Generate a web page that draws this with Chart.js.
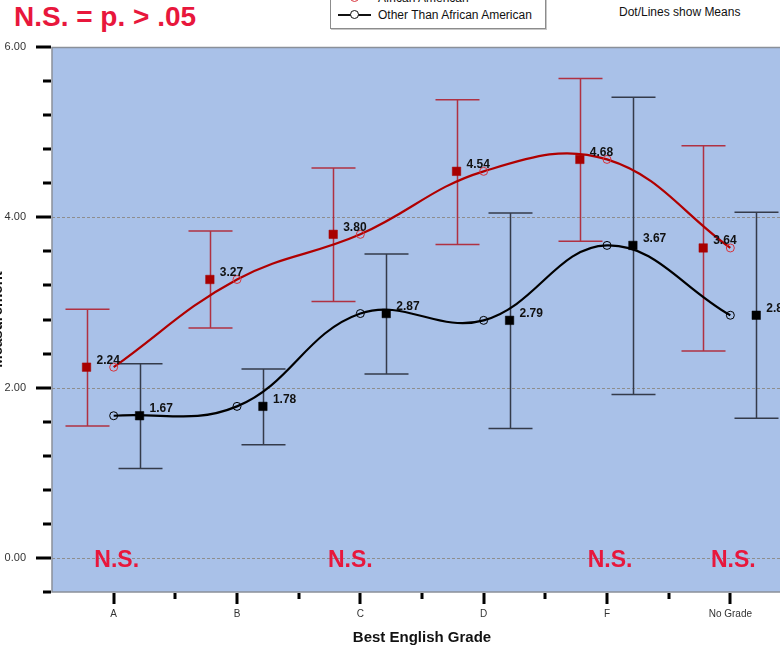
<!DOCTYPE html>
<html lang="en">
<head>
  <meta charset="UTF-8" />
  <title>Best English Grade | Means</title>
  <style>
    html, body {
      margin: 0;
      background: #fff;
    }

    body {
      width: 780px;
      height: 645px;
      overflow: hidden;
      position: relative;
      font-family: 'Liberation Sans', Arial, sans-serif;
    }

    .chart-box {
      position: absolute;
      left: -12px;
      top: 0;
      width: 812px;
      height: 645px;
    }

    .ns-title {
      position: absolute;
      left: 14px;
      top: 0;
      line-height: 34px;
      font-size: 28px;
      font-weight: bold;
      color: #e8173c;
      white-space: nowrap;
    }

    .means-note {
      position: absolute;
      left: 619px;
      top: 4px;
      font-size: 12px;
      line-height: 16px;
      color: #111;
      white-space: nowrap;
    }

    .legend {
      position: absolute;
      left: 330px;
      top: -20px;
      width: 214px;
      height: 47px;
      border: 1px solid #8c8c8c;
      box-shadow: 1px 1px 0 #c8c8c8;
      background: #fff;
    }

    .legend .row {
      position: absolute;
      left: 0;
      width: 100%;
      height: 16px;
    }

    .legend .row span {
      position: absolute;
      left: 47px;
      top: 0;
      font-size: 12px;
      line-height: 16px;
      color: #111;
      white-space: nowrap;
    }

    .legend .sym {
      position: absolute;
      left: 7px;
      top: 7px;
      width: 33px;
      height: 1.5px;
      background: #111;
    }

    .legend .sym::after {
      content: '';
      position: absolute;
      left: 12px;
      top: -4px;
      width: 7px;
      height: 7px;
      border: 1px solid #111;
      border-radius: 50%;
      background: #fff;
    }

    .legend .red .sym { background: #b00000; }
    .legend .red .sym::after { border-color: #d8343c; }
  </style>
</head>
<body>
  <div class="ns-title">N.S. = p. &gt; .05</div>

  <div class="legend">
    <div class="row red" style="top: 9px;"><i class="sym"></i><span>African American</span></div>
    <div class="row" style="top: 26px;"><i class="sym"></i><span>Other Than African American</span></div>
  </div>

  <div class="means-note">Dot/Lines show Means</div>

  <div class="chart-box">
    <canvas id="gradeChart"></canvas>
  </div>

  <script src="https://cdn.jsdelivr.net/npm/chart.js"></script>
  <script>
    // values
    const grades = ['A', 'B', 'C', 'D', 'F', 'No Grade'];

    const redMeans = [2.24, 3.27, 3.80, 4.54, 4.68, 3.64];
    const redLow   = [1.55, 2.70, 3.01, 3.68, 3.72, 2.43];
    const redHigh  = [2.92, 3.84, 4.58, 5.38, 5.63, 4.84];

    const blackMeans = [1.67, 1.78, 2.87, 2.79, 3.67, 2.85];
    const blackLow   = [1.05, 1.33, 2.16, 1.52, 1.92, 1.64];
    const blackHigh  = [2.28, 2.22, 3.57, 4.05, 5.41, 4.06];

    const nsGrades = ['A', 'C', 'F', 'No Grade'];

    const plotBlue = '#a9c1e8';
    const redLine = '#b00000';
    const redMark = '#a80000';
    const redBar = 'rgba(178, 24, 36, 0.85)';
    const blackBar = '#343b4a';
    const nsRed = '#e8173c';

    // error bars sit a little left (red) and right (black) of each grade
    const redShift = -0.22;
    const blackShift = 0.21;

    const isMajor = v => Math.abs(v / 2 - Math.round(v / 2)) < 1e-6;
    const pts = (vals, shift) => vals.map((v, i) => ({ x: i + shift, y: v }));

    function drawErrorBars(chart, lows, highs, shift, color) {
      const { ctx, scales: { x, y } } = chart;
      ctx.save();
      ctx.strokeStyle = color;
      ctx.lineWidth = 1.5;
      lows.forEach((lo, i) => {
        const px = Math.round(x.getPixelForValue(i + shift)) + 0.5;
        const top = y.getPixelForValue(highs[i]);
        const bot = y.getPixelForValue(lo);
        ctx.beginPath();
        ctx.moveTo(px, top);
        ctx.lineTo(px, bot);
        ctx.moveTo(px - 22, top);
        ctx.lineTo(px + 22, top);
        ctx.moveTo(px - 22, bot);
        ctx.lineTo(px + 22, bot);
        ctx.stroke();
      });
      ctx.restore();
    }

    function drawValueLabels(chart, vals, shift) {
      const { ctx, scales: { x, y } } = chart;
      ctx.save();
      ctx.font = 'bold 12px "Liberation Sans", Arial, sans-serif';
      ctx.fillStyle = '#111';
      ctx.textAlign = 'left';
      ctx.textBaseline = 'middle';
      vals.forEach((v, i) => {
        ctx.fillText(v.toFixed(2), x.getPixelForValue(i + shift) + 10, y.getPixelForValue(v) - 7);
      });
      ctx.restore();
    }

    const framePlugin = {
      id: 'frame',
      beforeDraw(chart) {
        const { ctx, chartArea: a } = chart;
        ctx.save();
        ctx.fillStyle = plotBlue;
        ctx.fillRect(a.left, a.top, a.right - a.left, a.bottom - a.top);
        ctx.restore();
      },
      beforeDatasetsDraw(chart) {
        const { ctx, chartArea: a, scales: { y } } = chart;
        // dashed reference lines at the labelled values
        ctx.save();
        ctx.strokeStyle = '#8e8e8e';
        ctx.lineWidth = 1;
        ctx.setLineDash([3, 2]);
        y.ticks.forEach(t => {
          if (!isMajor(t.value) || t.value >= y.max) return;
          const py = Math.round(y.getPixelForValue(t.value)) + 0.5;
          ctx.beginPath();
          ctx.moveTo(a.left, py);
          ctx.lineTo(a.right, py);
          ctx.stroke();
        });
        ctx.restore();

        drawErrorBars(chart, redLow, redHigh, redShift, redBar);
        drawErrorBars(chart, blackLow, blackHigh, blackShift, blackBar);
      },
      afterDatasetsDraw(chart) {
        const { ctx, chartArea: a, scales: { x, y } } = chart;

        // plot frame
        ctx.save();
        ctx.strokeStyle = '#8a9099';
        ctx.lineWidth = 1.5;
        ctx.beginPath();
        ctx.moveTo(a.right + 2, a.top + 0.5);
        ctx.lineTo(a.left, a.top + 0.5);
        ctx.lineTo(a.left, a.bottom);
        ctx.lineTo(a.right + 2, a.bottom);
        ctx.stroke();

        // tick marks
        ctx.fillStyle = '#000';
        y.ticks.forEach(t => {
          const py = Math.round(y.getPixelForValue(t.value));
          const len = isMajor(t.value) ? 15 : 8;
          ctx.fillRect(a.left - len - 1, py - 1.5, len, 3);
        });
        x.ticks.forEach(t => {
          if (t.value <= x.min || t.value >= x.max) return;
          const px = Math.round(x.getPixelForValue(t.value));
          const len = Number.isInteger(t.value) ? 11 : 6;
          ctx.fillRect(px - 1.5, a.bottom + 1, 3, len);
        });
        ctx.restore();

        drawValueLabels(chart, redMeans, redShift);
        drawValueLabels(chart, blackMeans, blackShift);

        // not-significant flags along the zero line
        const nudge = { C: -13 };
        ctx.save();
        ctx.font = 'bold 23px "Liberation Sans", Arial, sans-serif';
        ctx.fillStyle = nsRed;
        ctx.textAlign = 'center';
        ctx.textBaseline = 'middle';
        nsGrades.forEach(g => {
          const i = grades.indexOf(g);
          ctx.fillText('N.S.', x.getPixelForValue(i) + 3 + (nudge[g] || 0), y.getPixelForValue(0) + 3);
        });
        ctx.restore();
      }
    };

    Chart.defaults.font.family = '"Liberation Sans", Arial, sans-serif';

    new Chart(document.getElementById('gradeChart'), {
      type: 'line',
      data: {
        datasets: [
          {
            label: 'African American (mean)',
            data: pts(redMeans, redShift),
            showLine: false,
            pointStyle: 'rect',
            pointRadius: 6,
            pointBackgroundColor: redMark,
            pointBorderColor: redMark,
            pointBorderWidth: 0.5
          },
          {
            label: 'Other Than African American (mean)',
            data: pts(blackMeans, blackShift),
            showLine: false,
            pointStyle: 'rect',
            pointRadius: 6,
            pointBackgroundColor: '#000',
            pointBorderColor: '#000',
            pointBorderWidth: 0.5
          },
          {
            label: 'African American',
            data: pts(redMeans, 0),
            borderColor: redLine,
            borderWidth: 2.2,
            tension: 0.4,
            pointRadius: 4,
            pointBorderWidth: 1,
            pointBorderColor: '#d8343c',
            pointBackgroundColor: 'rgba(0,0,0,0)'
          },
          {
            label: 'Other Than African American',
            data: pts(blackMeans, 0),
            borderColor: '#000',
            borderWidth: 2.2,
            tension: 0.4,
            pointRadius: 4,
            pointBorderWidth: 1,
            pointBorderColor: '#000',
            pointBackgroundColor: 'rgba(0,0,0,0)'
          }
        ]
      },
      options: {
        responsive: true,
        maintainAspectRatio: false,
        animation: false,
        devicePixelRatio: 1,
        layout: { padding: { top: 47, right: 0, left: 0, bottom: 0 } },
        plugins: {
          legend: { display: false },
          tooltip: { enabled: false }
        },
        scales: {
          x: {
            type: 'linear',
            min: -0.5,
            max: 5.5,
            grid: { display: false },
            border: { display: false },
            ticks: {
              stepSize: 0.5,
              autoSkip: false,
              maxRotation: 0,
              padding: 8,
              color: '#333',
              font: { size: 10 },
              callback: v => Number.isInteger(v) && grades[v] ? grades[v] : ''
            },
            title: {
              display: true,
              text: 'Best English Grade',
              color: '#111',
              font: { size: 15, weight: 'bold' },
              padding: { top: 0, bottom: -2 }
            },
            afterFit: s => { s.height = 53; }
          },
          y: {
            min: -0.4,
            max: 6,
            grid: { display: false },
            border: { display: false },
            ticks: {
              stepSize: 0.4,
              autoSkip: false,
              padding: 18,
              color: '#333',
              font: { size: 11 },
              callback: v => isMajor(v) && v >= 0 ? v.toFixed(2) : ''
            },
            title: {
              display: true,
              text: 'Measurement',
              color: '#111',
              font: { size: 15, weight: 'bold' },
              padding: { top: 1, bottom: 4 }
            },
            afterFit: s => { s.width = 64; }
          }
        }
      },
      plugins: [framePlugin]
    });
  </script>
</body>
</html>
